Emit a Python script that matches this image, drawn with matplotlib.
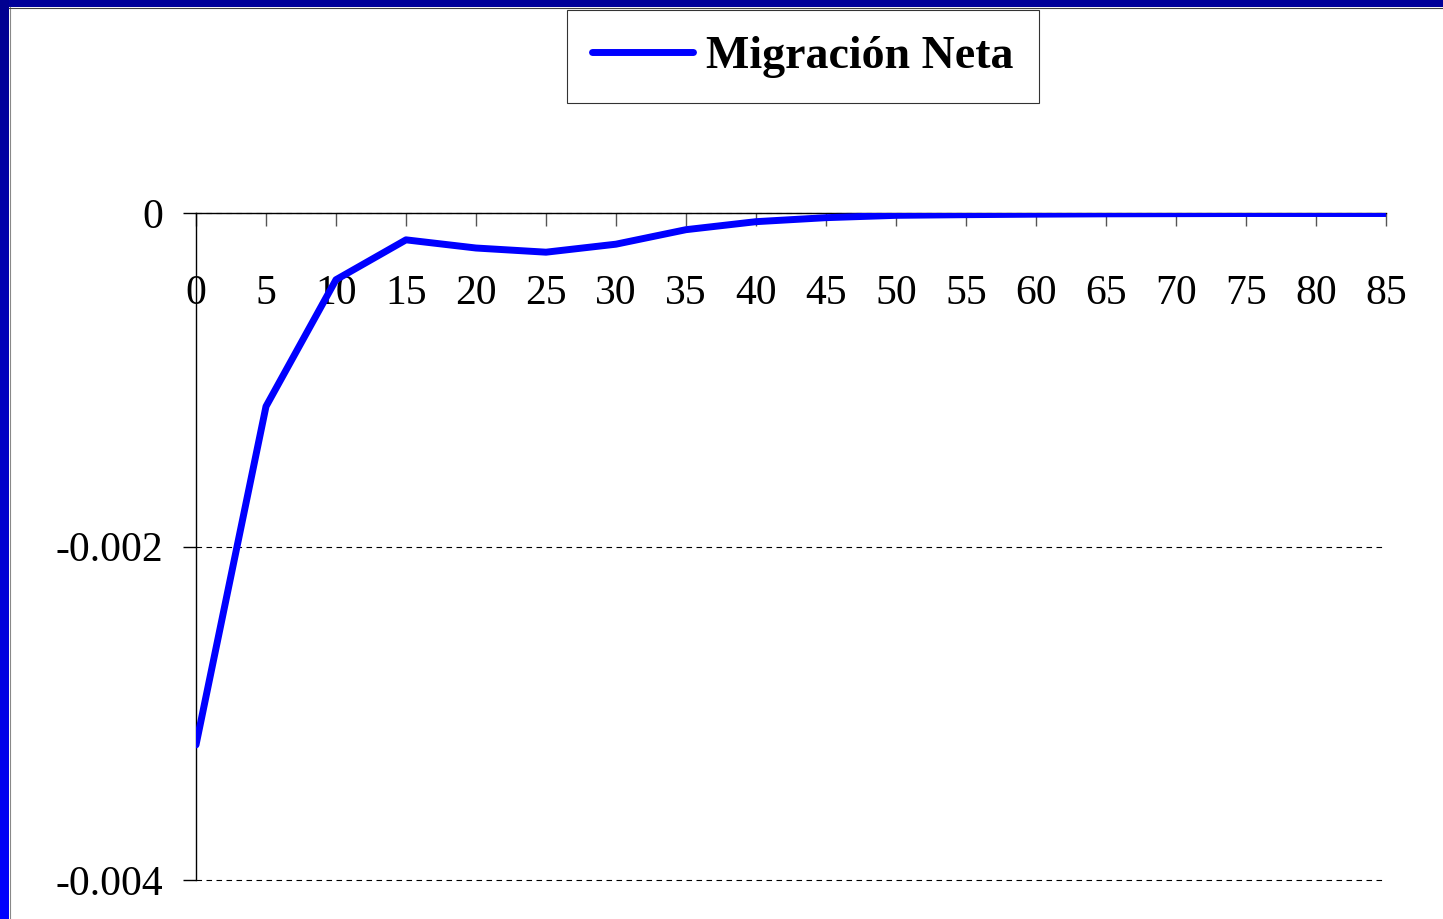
import numpy as np
import matplotlib
matplotlib.use('Agg')
import matplotlib.pyplot as plt
from matplotlib.colors import LinearSegmentedColormap

plt.rcParams['font.family'] = ['Liberation Serif', 'DejaVu Serif']

# age groups and net migration values
edades = [0, 5, 10, 15, 20, 25, 30, 35, 40, 45, 50, 55, 60, 65, 70, 75, 80, 85]
migracion = [-0.00319, -0.00116, -0.00040, -0.000161, -0.00021, -0.000235,
             -0.000187, -0.000100, -0.000052, -0.000028, -0.000014, -0.00001,
             -0.000007, -0.000005, -0.000004, -0.000003, -0.000003, -0.000003]
yticks = [0, -0.002, -0.004]
ytick_labels = ['0', '-0.002', '-0.004']

W, H = 1443, 919
fig = plt.figure(figsize=(W / 100, H / 100), dpi=100)
fig.patch.set_facecolor('white')

# blue frame: top band and gradient band on the left
top = fig.add_axes([0, 1 - 7 / H, 1, 7 / H])
top.set_facecolor('#000099')
top.set_xticks([]); top.set_yticks([])
for s in top.spines.values():
    s.set_visible(False)

left = fig.add_axes([0, 0, 9 / W, 1])
cmap = LinearSegmentedColormap.from_list('frame', ['#000090', '#0000ff'])
left.imshow(np.linspace(0, 1, 256).reshape(-1, 1), aspect='auto', cmap=cmap)
left.set_xticks([]); left.set_yticks([])
for s in left.spines.values():
    s.set_visible(False)
fig.add_artist(plt.Line2D([9.5 / W, 9.5 / W], [0, 1 - 7 / H], color='#888888', lw=0.8))
fig.add_artist(plt.Line2D([9 / W, 1], [1 - 7.5 / H, 1 - 7.5 / H], color='#444444', lw=0.8))

ax = fig.add_axes([196 / W, 1 - 880 / H, (1386 - 196) / W, (880 - 213) / H])
ax.plot(edades, migracion, color='#0000ff', lw=5, solid_capstyle='round',
        solid_joinstyle='round', label='Migración Neta', zorder=3)
ax.set_xlim(0, 85)
ax.set_ylim(-0.004, 0)

ax.spines['right'].set_visible(False)
ax.spines['bottom'].set_visible(False)
ax.spines['top'].set_linewidth(1)
ax.spines['left'].set_linewidth(1)

ax.set_yticks(yticks)
ax.set_yticklabels(ytick_labels)
ax.tick_params(axis='y', direction='out', length=9.5, width=1, pad=14, labelsize=30)
ax.yaxis.grid(True, linestyle=(0, (5, 4)), color='black', lw=0.8)
for gl in ax.get_ygridlines():
    gl.set_clip_on(False)

ax.xaxis.tick_top()
ax.set_xticks(edades)
ax.set_xticklabels([str(e) for e in edades])
ax.tick_params(axis='x', direction='in', length=9.5, width=1, color='#555555',
               labelsize=30, pad=-72)
for lbl in ax.get_xticklabels():
    lbl.set_verticalalignment('bottom')

leg = ax.legend(loc='center', bbox_to_anchor=(803 / W, 1 - 56.5 / H),
                bbox_transform=fig.transFigure, frameon=True, fancybox=False,
                handlelength=2.2, handletextpad=0.28, borderpad=0.56,
                prop={'size': 33, 'weight': 'bold'})
leg.get_frame().set_edgecolor('black')
leg.get_frame().set_linewidth(0.8)

fig.savefig('out.png', dpi=100)
